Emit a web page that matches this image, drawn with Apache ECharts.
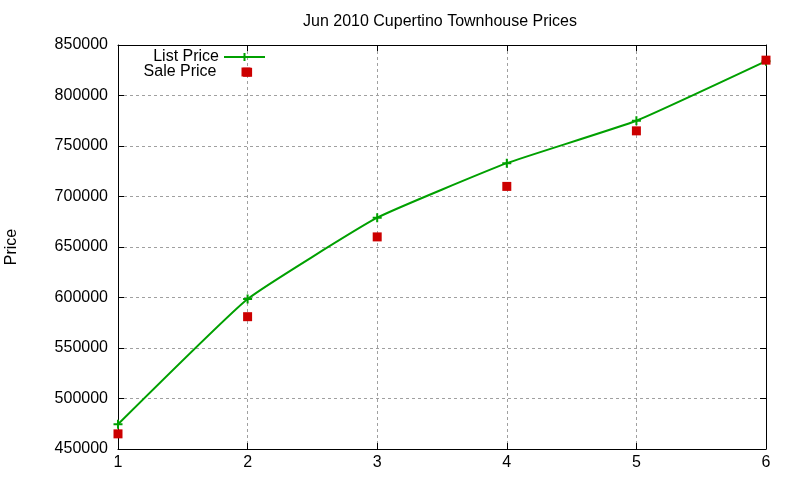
<!DOCTYPE html>
<html>
<head>
<meta charset="utf-8">
<script src="https://cdn.jsdelivr.net/npm/echarts@6/dist/echarts.min.js"></script>
<style>
  html, body { margin: 0; padding: 0; background: #fff; }
  #main { width: 800px; height: 480px; }
</style>
</head>
<body>
<div id="main"></div>
<script>
// values
var listX = [1, 2, 3, 4, 5, 6];
var listPrice = [474500, 598500, 679000, 733000, 775000, 834000];
var saleX = [1, 2, 2, 3, 4, 5, 6];
var salePrice = [465000, 823000, 581000, 660000, 710000, 765000, 835000];

var font = 'Liberation Sans, Arial, sans-serif';
var plus = 'path://M0,5L10,5M5,0L5,10';

var chart = echarts.init(document.getElementById('main'));

var gridLine = { show: true, lineStyle: { color: '#a0a0a0', type: [3, 3], width: 1 } };
var tick = { show: true, inside: true, length: 6, lineStyle: { color: '#000' } };
var border = { show: true, onZero: false, lineStyle: { color: '#000', width: 1 } };
var legendText = { fontFamily: font, fontSize: 16, color: '#000' };

chart.setOption({
    animation: false,
    backgroundColor: '#fff',
    title: {
        text: 'Jun 2010 Cupertino Townhouse Prices',
        left: 435, top: 9, textAlign: 'center',
        textStyle: { fontFamily: font, fontSize: 16, fontWeight: 'normal', color: '#000' }
    },
    legend: [{
        data: ['List Price'],
        orient: 'vertical', align: 'right',
        right: 800 - 266, top: 49, padding: 0,
        itemWidth: 41, itemHeight: 10,
        textStyle: legendText
    }, {
        data: [{ name: 'Sale Price', icon: 'rect' }],
        orient: 'vertical', align: 'right',
        right: 800 - 250.5, top: 64, padding: 0,
        itemWidth: 9, itemHeight: 9,
        textStyle: { fontFamily: font, fontSize: 16, color: '#000', padding: [0, 20, 0, 0] }
    }],
    grid: { left: 118, right: 34, top: 45, bottom: 31, outerBoundsMode: 'none' },
    xAxis: [{
        type: 'value', min: 1, max: 6, interval: 1,
        axisLine: border,
        axisTick: tick,
        axisLabel: { fontFamily: font, fontSize: 16, color: '#000', margin: 6 },
        splitLine: gridLine
    }, {
        type: 'value', min: 1, max: 6, interval: 1, position: 'top',
        axisLine: border,
        axisTick: tick, axisLabel: { show: false }, splitLine: { show: false }
    }],
    yAxis: [{
        type: 'value', min: 450000, max: 850000, interval: 50000,
        name: 'Price', nameLocation: 'middle', nameGap: 98, nameRotate: 90,
        nameTextStyle: { fontFamily: font, fontSize: 16, color: '#000' },
        axisLine: border,
        axisTick: tick,
        axisLabel: {
            fontFamily: font, fontSize: 16, color: '#000', margin: 10,
            formatter: function (v) { return String(v); }
        },
        splitLine: gridLine
    }, {
        type: 'value', min: 450000, max: 850000, interval: 50000, position: 'right',
        axisLine: border,
        axisTick: tick, axisLabel: { show: false }, splitLine: { show: false }
    }],
    series: [{
        name: 'List Price',
        type: 'line',
        smooth: 0.12,
        data: listX.map(function (x, i) { return [x, listPrice[i]]; }),
        symbol: plus, symbolSize: 9,
        showAllSymbol: true,
        lineStyle: { color: '#00a000', width: 2 },
        itemStyle: { color: '#00a000', borderColor: '#00a000', borderWidth: 2 },
        z: 3
    }, {
        name: 'Sale Price',
        type: 'scatter',
        data: saleX.map(function (x, i) { return [x, salePrice[i]]; }),
        symbol: 'rect', symbolSize: 9,
        itemStyle: { color: '#cc0000', opacity: 1 },
        z: 4
    }]
});
</script>
</body>
</html>
